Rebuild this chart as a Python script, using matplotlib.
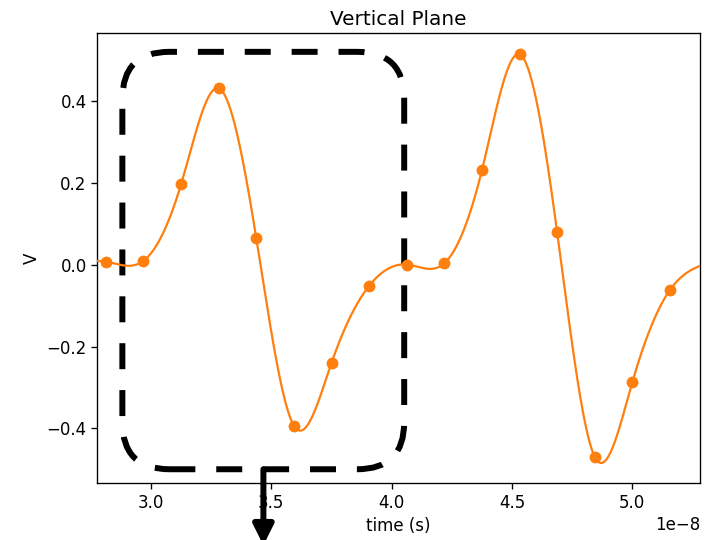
import numpy as np
import matplotlib
matplotlib.use("Agg")
import matplotlib.pyplot as plt
from matplotlib.patches import FancyBboxPatch

# sample index (1.5625 ns steps) and measured voltage
sample_idx = np.arange(17, 35)
volts = [0.000, 0.007, 0.009, 0.196, 0.430, 0.064, -0.393, -0.240, -0.052,
         0.000, 0.003, 0.230, 0.513, 0.079, -0.469, -0.287, -0.062, 0.004]
t_step = 1.5625e-9

title = "Vertical Plane"
xlabel = "time (s)"
ylabel = "V"

plt.rcParams.update({
    "font.size": 12,
    "axes.titlesize": 14.4,
    "axes.labelsize": 12,
    "xtick.labelsize": 12,
    "ytick.labelsize": 12,
    "xtick.major.size": 4.2,
    "ytick.major.size": 4.2,
    "xtick.major.width": 0.96,
    "ytick.major.width": 0.96,
    "axes.linewidth": 0.96,
})


def natural_spline(x, y, xs):
    """Evaluate a natural cubic spline through (x, y) at xs."""
    x = np.asarray(x, float)
    y = np.asarray(y, float)
    n = len(x)
    h = np.diff(x)
    A = np.zeros((n, n))
    b = np.zeros(n)
    A[0, 0] = A[-1, -1] = 1.0
    for i in range(1, n - 1):
        A[i, i - 1] = h[i - 1]
        A[i, i] = 2 * (h[i - 1] + h[i])
        A[i, i + 1] = h[i]
        b[i] = 6 * ((y[i + 1] - y[i]) / h[i] - (y[i] - y[i - 1]) / h[i - 1])
    M = np.linalg.solve(A, b)
    k = np.clip(np.searchsorted(x, xs) - 1, 0, n - 2)
    dx = xs - x[k]
    hk = h[k]
    a = (M[k + 1] - M[k]) / (6 * hk)
    bb = M[k] / 2
    c = (y[k + 1] - y[k]) / hk - hk * (2 * M[k] + M[k + 1]) / 6
    return y[k] + c * dx + bb * dx ** 2 + a * dx ** 3


t = sample_idx * t_step
t_fine = np.linspace(t[0], t[-1], 2000)
v_fine = natural_spline(t, volts, t_fine)

fig = plt.figure(figsize=(7.11, 5.4), dpi=100)
ax = fig.add_axes([0.1369, 0.1056, 0.8476, 0.8333])

ax.plot(t_fine, v_fine, color="#ff7f0e", lw=1.6, zorder=3)
ax.plot(t, volts, "o", color="#ff7f0e", ms=7.5, zorder=3)

ax.set_xlim(2.777e-8, 5.281e-8)
ax.set_ylim(-0.533, 0.565)
ax.set_title(title)
ax.set_xlabel(xlabel)
ax.set_ylabel(ylabel)

# highlight box around the first pulse, drawn in data coords
x_scale = 0.8476 * 711 / (2.504e-8)
y_scale = 0.8333 * 540 / 1.098
box = FancyBboxPatch((2.881e-8, -0.4995), 1.171e-8, 1.0185,
                     boxstyle="round,pad=0,rounding_size=%g" % (47 / x_scale),
                     mutation_aspect=x_scale / y_scale,
                     fill=False, ec="black", lw=4.3,
                     linestyle=(0, (4.35, 3.5)), zorder=2)
ax.add_patch(box)

ax.annotate("", xy=(3.467e-8, -0.685), xytext=(3.467e-8, -0.4995),
            xycoords="data", annotation_clip=False,
            arrowprops=dict(arrowstyle="-|>", lw=4.3, color="black",
                            mutation_scale=30, shrinkA=0, shrinkB=0))

fig.savefig("out.png", dpi=100)
